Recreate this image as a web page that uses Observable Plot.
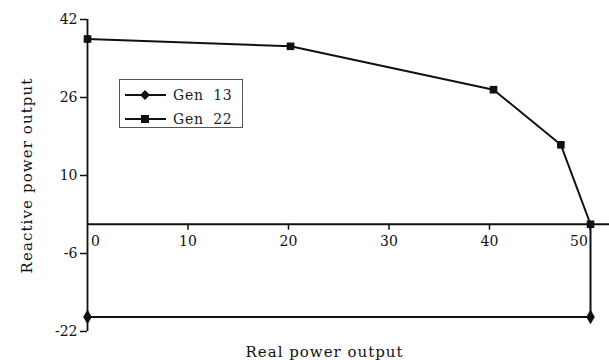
<!DOCTYPE html>
<html><head><meta charset="utf-8">
<script src="https://cdn.jsdelivr.net/npm/d3@7"></script>
<script src="https://cdn.jsdelivr.net/npm/@observablehq/plot@0.6"></script>
<style>
body{margin:0;background:#fff;}
#wrap{position:relative;width:609px;height:360px;font-family:"DejaVu Serif",serif;color:#222;}
#legend{position:absolute;left:119px;top:79px;width:122px;height:47px;border:1px solid #555;background:#fff;}
.row{position:absolute;left:5px;height:20px;display:flex;align-items:center;}
.row span{margin-left:7px;font-size:14px;letter-spacing:0.8px;word-spacing:4px;}
</style></head><body><div id="wrap"></div>
<script>
const gen22X = [0, 20.2, 40.4, 47.1, 50.05];
const gen22Y = [38, 36.5, 27.6, 16.3, 0];
const gen13X = [0, 50.05, 50.05];
const gen13Y = [-19, -19, 0];
const xTicks = [0, 10, 20, 30, 40, 50];
const yTicks = [42, 26, 10, -6, -22];
const seriesNames = ["Gen 13", "Gen 22"];
const xLabel = "Real power output";
const yLabel = "Reactive power output";

const gen22 = gen22X.map((x, i) => ({x, y: gen22Y[i]}));
const gen13 = gen13X.map((x, i) => ({x, y: gen13Y[i]}));
const ink = "#111";
const font = "DejaVu Serif";
const fmt = d => String(d);

const chart = Plot.plot({
  width: 609, height: 360,
  marginLeft: 87, marginRight: 0, marginTop: 19, marginBottom: 29,
  x: {domain: [0, 51.94], axis: null},
  y: {domain: [-22, 42]},
  style: {fontFamily: font, fontSize: "14px", color: ink, background: "#fff"},
  marks: [
    Plot.ruleX([0], {stroke: ink, strokeWidth: 1.8}),
    Plot.ruleY([0], {stroke: ink, strokeWidth: 1.8}),
    Plot.ruleX(xTicks.slice(1), {x: d => d, y1: d => 0, y2: d => 0, insetBottom: -6, stroke: ink, strokeWidth: 1.5}),
    Plot.axisY({ticks: yTicks, tickFormat: fmt, tickSize: 7, tickPadding: 3, label: null, fontSize: 14, stroke: ink, strokeWidth: 1.5, fill: ink}),
    Plot.text(xTicks.slice(1, 5), {x: d => d, y: d => 0, text: fmt, dy: 17, fontSize: 14, fill: ink}),
    Plot.text(xTicks.slice(0, 1), {x: d => d, y: d => 0, text: fmt, dy: 17, dx: 8, fontSize: 14, fill: ink}),
    Plot.text(xTicks.slice(5), {x: d => d, y: d => 0, text: fmt, dy: 17, dx: -11, fontSize: 14, fill: ink}),
    Plot.line(gen13, {x: "x", y: "y", stroke: ink, strokeWidth: 2}),
    Plot.line(gen22, {x: "x", y: "y", stroke: ink, strokeWidth: 2}),
    Plot.dot(gen13.slice(0, 2), {x: "x", y: "y", symbol: "diamond", r: 4.5, fill: ink}),
    Plot.dot(gen22, {x: "x", y: "y", symbol: "square", r: 4.3, fill: ink}),
    Plot.text([yLabel], {frameAnchor: "left", textAnchor: "middle", lineAnchor: "middle", dx: -60, rotate: -90, fontSize: 15, fill: ink}),
    Plot.text([xLabel], {frameAnchor: "bottom", textAnchor: "middle", lineAnchor: "middle", dx: -24, dy: 21, fontSize: 15, fill: ink})
  ]
});
const wrap = document.getElementById("wrap");
wrap.appendChild(chart);
d3.select(chart).selectAll("text").filter(function() { return this.textContent === yLabel; }).style("letter-spacing", "1.1px");
d3.select(chart).selectAll("text").filter(function() { return this.textContent === xLabel; }).style("letter-spacing", "1px");

const legend = document.createElement("div");
legend.id = "legend";
const symbols = [
  '<path d="M20 1 L25 6 L20 11 L15 6 Z" fill="#111"/>',
  '<rect x="16" y="2" width="8" height="8" fill="#111"/>'
];
seriesNames.forEach((name, i) => {
  const row = document.createElement("div");
  row.className = "row";
  row.style.top = (5 + i * 24) + "px";
  row.innerHTML = '<svg width="41" height="12"><line x1="0" x2="41" y1="6" y2="6" stroke="#111" stroke-width="2"/>' + symbols[i] + '</svg><span>' + name + '</span>';
  legend.appendChild(row);
});
wrap.appendChild(legend);
</script>
</body></html>
